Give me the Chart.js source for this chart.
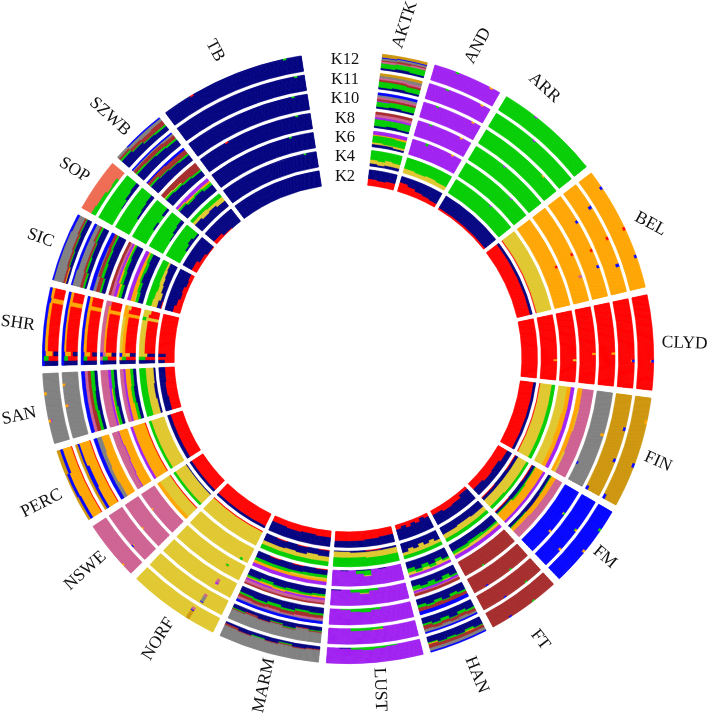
<!DOCTYPE html>
<html lang="en">
<head>
    <meta charset="UTF-8">
    <title>Circular ancestry plot</title>
    <script src="https://cdn.jsdelivr.net/npm/chart.js"></script>
    <style>
        html, body { margin: 0; padding: 0; background: white; }
        canvas { display: block; }
    </style>
</head>
<body>
    <canvas id="ringChart" width="709" height="718"></canvas>
    <script>
    // K values, outer ring first
    var kLabels = ['K12', 'K11', 'K10', 'K8', 'K6', 'K4', 'K2'];

    var breeds = ['AKTK', 'AND', 'ARR', 'BEL', 'CLYD', 'FIN', 'FM', 'FT', 'HAN', 'LUST',
                  'MARM', 'NORF', 'NSWE', 'PERC', 'SAN', 'SHR', 'SIC', 'SOP', 'SZWB', 'TB'];

    // width of each breed around the circle (proportional to sample size)
    var breedSizes = [8.55, 13.2, 20, 23.8, 18, 21.2, 16, 13.9, 11.1, 18.3,
                      19.2, 17.5, 11.3, 14.2, 13.3, 14.8, 13.1, 10.1, 10.8, 27.85];

    // cluster shares per breed, one string per K: K2, K4, K6, K8, K10, K11, K12
    // "r8n8" = 8/16 cluster r then 8/16 cluster n, inner to outer
    // "|" steps clockwise inside the breed, "*3" repeats a step
    var AKTK = ['r7n9|r6n10|r7n9', 'n3y4g9|n2y4g10|n3y5g8|n3y4g9', 'n3y2g7o1p3|n3y1g8o1p3|n2y2g7o2p3',
                'n2g7p2k3w2|n3g6p2k3w2|n2g7p2k3w2', 'n2g5p1w2k2a2b2|n3g5w2k2a2b2|n2g6w2k2a2b2',
                'n2g6w2k2a2d2|n3g5w2k2a2d2|n2g5w2k2a3d2', 'n2g5k2w1a2b1d3|n3g5k1w2a2b1d2|n2g6k2w1a2b1d2'];
    var AND = ['r10n6|r8n8|r6n10|r5n11|r4n12', 'y5g11|y4g12|y5g11|y4g12', 'p16*5|p14g2|p16*9|p15o1|p16*3',
               'p16*4|p15g1|p16*10|p15o1|p16*3', 'p16*4|p15g1|p16*11|p15o1|p16*2',
               'p16*5|p15g1|p16*10|p15o1|p16*2', 'p16*6|p15g1|p16*9|p15o1|p16*2'];
    var ARR = ['r2n14', 'g16*18|g15p1|g16*12', 'g16*22|g15p1|g16*8', 'g16*12|g15p1|g16*18', 'g16*24|g15o1|g16*6',
               'g16*14|g15p1|g16*16', 'g16*10|g15p1|g16*20'];
    var BEL = ['r14n2', 'r1y15', 'o16*22|o14r2|o16*16', 'o16*20|o14r2|o16*8|o13k3|o16*9', 'o16*10|o14b2|o16*10|o14r2|o16*5|o14b2|o16*10',
               'o16*8|o13b3|o16*10|o14r2|o16*8|o13b3|o16*8', 'o16*5|o14b2|o16*13|o14r2|o16*8|o14b2|o16*9'];
    var CLYD = ['r16', 'r16*24|r13o3|r16*10', 'r16*24|r13y3|r16*10', 'r16*21|r13o3|r16*13', 'r16*21|r13o3|r16*13',
                'r16*24|r13o1b2|r16*10', 'r16*24|r13o1b2|r16*10'];
    var FIN = ['r14n2', 'r1y12g3', 'y9o4p3|y8o5p3|y9o4p3', 'o5k11|o4y1k11|o4k12|o3y2k11', 'a16*14|a13o3|a16*11|b2a14|a16*6',
               'd16*9|d13o1b2|d16*8|d14b2|d16*9|b3d13', 'd16*5|d14o2|d16*9|d13o1b2|d16*8|b3d13'];
    var FM = ['r11n5|r9n7|r10n6|r8n8', 'r1n3y10g2|n4y10g2|r1n3y9g3', 'r1n3g1o9p2|n4g2o8p2|r1n2g1o10p2', 'n3g1o5k7|n4o5k7|n3g1o4k8',
              'b16*10|b14o1g1|b16*8|b14o2|b16*10', 'b16*12|b14g1o1|b16*8|b14o2|b16*7', 'b16*7|b14g2|b16*8|b14o2|b16*12'];
    var FT = ['r3n13|r6n10|r7n9|r5n11', 'n8y5g3|n7y6g3|n8y5g3', 'n8g2y2o1p3|n7g3y3p3|n8g3y2p3', 'w16*16|w15g1|w16*8',
              'w16*8|w15g1|w16*10|w15b1|w16*5', 'w16*6|w15g1|w16*8|w15b1|w16*8', 'w16*8|w15g1|w16*8|w15b1|w16*6'];
    var HAN = ['r4n12|r2n14|r5n11|r3n13|r6n10|r3n13|r5n11', 'n10y3g3|n7y6g3|n9y4g3|n6y7g3|n9y4g3|n7y6g3|n10y3g3',
               'n10g2y2p2|n7g3y4p2|n10g3y1p2|n7g4y3p2|n10g3y1p2|n7g4y3p2', 'n9g2p2k1w2|n6g4y1p2k1w2|n9g2p2k1w2|n6g5p2k1w2|n8g3p2k1w2|n6g4y1p2k1w2',
               'n8g2w3b3|n6g3w4b3|n9g1w3b3|n6g3w4b3|n8g2w3b3|n6g3w4b3', 'n8g2w3a2b1|n6g3w3a3b1|n9g1w3a2b1|n6g3w3a3b1|n8g2w3a2b1|n6g2w4a3b1',
               'n8g1w3a3b1|n6g2o1w3a3b1|n8g1w3a3b1|n7g2w3a3b1|n8g1w3a3b1|n6g1o1w4a3b1'];
    var LUST = ['r8n8|r9n7|r10n6|r10n6', 'n2y6g8|r1n1y6g8|n2y5g9|n1y6g9', 'p16*2|n1p15|p16|n1g5y1p9|n1g3p12|p16|n1p15|p16',
                'p16*2|p16|g2p14|g4y1p11|g3p13|p16|n1p15', 'p16*3|g2p14|g4p12|g3p13|g1p15|p16', 'p16*3|g2o1p13|g3p13|g3p13|p16*2',
                'p16*2|g1p15|g2p14|g3p13|g2p14|n1p15|p16'];
    var MARM = ['r7n9|r6n10|r7n9|r6n10', 'r1n6y5g4|n6y6g4|r1n7y4g4|n7y5g4|r1n7y4g4|n8y4g4', 'r1n5g3y2o2p3|n6g3y2o2p3|r1n6g2y2o2p3|n7g3o3p3|r1n6g3o3p3|n7g3o3p3',
                'n6g2o2p2k3w1|n7g2o1p2k3w1|n6g3o1p2k3w1|n7g2o2p1k3w1|n5g3o2p2k3w1|n7g2o1p2k3w1', 'n6g2w3k2a1b2|n5g2w4k2a1b2|n7g2w3k1a1b2|n5g3w3k2a1b2|n7g2w3k1a1b2|n6g2w3k2a1b2',
                'n4g1w1a10|n3w1a12|n5g1w1a9|n3g1w1a11|n5w1a10|n3w2a11|n4g1w1a10', 'n3w1a12|n4w1a11|n2g1w1a12|n4w1a11|n3g1a12|n4w1a11|n2w2a12'];
    var NORF = ['r14n2', 'r1y15', 'y16*2|y14g2|y16*21', 'y16*5|y7g2o1y6|y16*18', 'y16*5|y5k4p2y5|y16*18',
                'y16*6|y5k3a6b1y1|y16*17', 'y16*7|y3k3b1d9|y16*16'];
    var NSWE = ['r14n2', 'n1y13g2', 'r1y12o3', 'k16*14|k15o1|k16*8', 'k16*10|k15o1|k16*12', 'k16*7|k14o1b1|k16*15', 'k16*4|k15o1|k16*18'];
    var PERC = ['r13n3', 'y14g2', 'r1o13p2', 'o10p1k5|o9p1k6|o8p1k7|o9p1k6', 'o9a4b3|o10a3b3|o9a4b3|o8a5b3', 'r1o10b3d2|r1o9b4d2|r1o11b2d2', 'r1o10b3d2|r1o11b3d1|r1o9b3d3'];
    var SAN = ['r10n6|r11n5|r10n6', 'n2y8g6|n3y7g6|n2y8g6', 'n3g3o5p2k3|n4g3o4p2k3|n3g3o5p2k3', 'n3g3o1p2k7|n4g2o1p2k7|n3g3p3k7', 'n3g3w4k3b3|n4g3w3k3b3|n3g4w3k3b3',
               'a16*12|a13k1o2|a16*7|a14o2|a16*4', 'a16*7|a13p1o2|a16*8|a14o2|a16*6'];
    var SHR = ['r10n6|r16|r9n7|r16*13', 'n16|r10g6|n8y8|r11y5*10|y13g3|r11y5|r9y7', 'n16|r10g4o2|n6y4o4b2|r11o3y2*10|o16|r12o4|r10y4o2',
               'n14b2|r9g5k2|n5o6k3b2|r11o2k3*10|o13k3|r11o2k3|r11k5', 'n14b2|r10g4b2|n5r2o6b3|r11o3b2*10|o14b2|r11o3b2|r11o3b2',
               'n14b2|r10g4b2|n5r2o6b3|r12o2b2*10|o14b2|r11o3b2|r11o3b2', 'n14b2|r10g5b1|n5r1o7b3|r11o3b2*10|o13b3|r11o3b2|r11o3b2'];
    var SIC = ['r8n8|r6n10|r4n12|r5n11|r3n13|r4n12', 'r1n4y6g5|n3y7g6|n5y4g7|n6y4g6|n7y3g6|n8y2g6', 'n5g3y1o4p3|n6g3o4p3|n8g2o3p3|n7g3o3p3|n8g3o2p3',
               'n3g3o2p3k3w2|n5g3o2p2k2w2|n6g3o1p2k2w2|n7g2o1p2k2w2', 'n4g2w4a3b3|n6g3w3a1b3|n7g2w3a1b3|n8g2w3b3', 'n2g2w3a8b1|n4g2w2a6b2|n5g1w2a6b2|n6g2w2a4b2',
               'n2o1w2a10b1|n3g1w2a9b1|n4g1w2a8b1|n5g1w2a6b2'];
    var SOP = ['r6n10|r3n13|r1n15', 'g16*2|n2g14|n4g12|n2g14', 'g16*2|n1g15|n3g13|n4g12', 'g16*2|n2g14|g16|n3g13', 'g16*2|n2g14|n3g13|n4g12',
               'g16*2|n1g15|n3g13|n4g12', 'g5s11|g4s12|g4s12|g2s14|g3s13|s16'];
    var SZWB = ['r4n12|r1n15|n16', 'n10y3g3|n8y5g3|n9y3g4|n7y5g4', 'n11g2o1p2|n9g2o2p3|n10g2y1p3|n8g3o2p3', 'n9g2y1w4|n8g2y1w5|n7g2w7|n6g2w8',
               'n10g2w3b1|n9g1w5b1|n8g1w5b2|n7g2w5b2', 'n9g2w3a1b1|n9g1w4a1b1|n8g2w4a1b1|n7g2w4a2b1', 'n10g2w2a2|n8g1w3a3b1|n6g1w4a4b1|n5g2w5a3b1'];
    var TB = ['n16', 'n16*36|n15g1|n16*4', 'n16*32|n15g1|n16*8', 'n16*10|n15r1|n16*24|n15g1|n16*4', 'n16*36|n15g1|n16*4',
              'n16*38|n15g1|n16*2', 'n16*8|n15r1|n16*26|n15g1|n16*4'];

    var clusterColors = {
        r: '#FF0000', n: '#000080', g: '#00CD00', y: '#E0C72E', p: '#A020F0', o: '#FFA500',
        k: '#CD6090', a: '#808080', b: '#0000FF', d: '#CD950C', w: '#A52A2A', s: '#EE6A50'
    };

    var breedShares = [AKTK, AND, ARR, BEL, CLYD, FIN, FM, FT, HAN, LUST,
                       MARM, NORF, NSWE, PERC, SAN, SHR, SIC, SOP, SZWB, TB];

    // label placing: angle around the circle, distance from the centre, text rotation
    var labelPlaces = [[9.7, 338, -72], [22.6, 338, -62], [36, 334, 42], [66.1, 331, 28], [87.5, 337, 2],
                       [108.5, 327, 24], [127.8, 325, 40], [145.7, 341, 52], [157.9, 342, 68], [174.5, 333, 88],
                       [194.4, 338, -78], [214, 339, -58], [231, 338, -42], [244.6, 339, -27], [260, 334, -12],
                       [276, 332, 8], [291.3, 330, 20], [304.5, 332, 32], [315.4, 339, 42], [336.6, 335, 62]];

    var breedGap = 1.5;
    var layersPerRing = 16;
    var ringGapWeight = 4;
    var startAngle = 6.5;

    // "r8n8" -> list of 16 cluster letters, inner to outer
    function expandStep(step) {
        var layers = [];
        step.replace(/([a-z])(\d+)/g, function(m, key, count) {
            for (var i = 0; i < +count; i++) layers.push(key);
        });
        while (layers.length < layersPerRing) layers.push(layers[layers.length - 1]);
        return layers.slice(0, layersPerRing);
    }

    function parseSteps(text) {
        var steps = [];
        text.split('|').forEach(function(part) {
            var bits = part.split('*');
            var times = bits[1] ? +bits[1] : 1;
            for (var i = 0; i < times; i++) steps.push(expandStep(bits[0]));
        });
        return steps;
    }

    // one doughnut dataset per layer, touching segments of a colour are merged
    function buildLayer(kIndex, layer) {
        var sizes = [], colors = [], widths = [];
        function add(size, color) {
            if (colors.length && colors[colors.length - 1] === color) {
                sizes[sizes.length - 1] += size;
            } else {
                sizes.push(size);
                colors.push(color);
                widths.push(color === 'transparent' ? 0 : 0.7);
            }
        }
        var used = 0;
        breeds.forEach(function(name, b) {
            var steps = parseSteps(breedShares[b][kIndex]);
            steps.forEach(function(step) {
                add(breedSizes[b] / steps.length, clusterColors[step[layer]]);
            });
            used += breedSizes[b];
            if (b < breeds.length - 1) {
                add(breedGap, 'transparent');
                used += breedGap;
            }
        });
        add(360 - used, 'transparent');
        return { data: sizes, backgroundColor: colors, borderColor: colors, borderWidth: widths, weight: 1 };
    }

    var datasets = [];
    kLabels.forEach(function(k, ringIndex) {
        var kIndex = kLabels.length - 1 - ringIndex; // shares are stored K2 first
        for (var layer = layersPerRing - 1; layer >= 0; layer--) {
            datasets.push(buildLayer(kIndex, layer));
        }
        if (ringIndex < kLabels.length - 1) {
            datasets.push({ data: [360], backgroundColor: ['transparent'], borderWidth: 0, weight: ringGapWeight });
        }
    });

    var ringLabels = {
        id: 'ringLabels',
        afterDraw: function(chart) {
            var ctx = chart.ctx;
            var first = chart.getDatasetMeta(0).data[0];
            var cx = first.x, cy = first.y;
            var pitch = layersPerRing + ringGapWeight;
            var unit = (first.outerRadius - first.innerRadius);
            ctx.save();
            ctx.fillStyle = '#111';
            ctx.textAlign = 'center';
            ctx.textBaseline = 'middle';
            ctx.font = '16.5px "Liberation Serif"';
            kLabels.forEach(function(k, i) {
                var r = first.outerRadius - unit * (i * pitch + layersPerRing / 2);
                ctx.fillText(k, cx - 3, cy - r);
            });
            ctx.font = '17.5px "Liberation Serif"';
            breeds.forEach(function(name, b) {
                var place = labelPlaces[b];
                var a = place[0] * Math.PI / 180;
                ctx.save();
                ctx.translate(cx + place[1] * Math.sin(a), cy - place[1] * Math.cos(a));
                ctx.rotate(place[2] * Math.PI / 180);
                ctx.fillText(name, 0, 0);
                ctx.restore();
            });
            ctx.restore();
        }
    };

    var ringChart = new Chart(document.getElementById('ringChart').getContext('2d'), {
        type: 'doughnut',
        data: { datasets: datasets },
        options: {
            responsive: false,
            animation: false,
            events: [],
            rotation: startAngle,
            cutout: '56.9%',
            layout: { padding: { left: 42, right: 55, top: 52, bottom: 54 } },
            plugins: { legend: { display: false }, tooltip: { enabled: false } }
        },
        plugins: [ringLabels]
    });
    </script>
</body>
</html>
